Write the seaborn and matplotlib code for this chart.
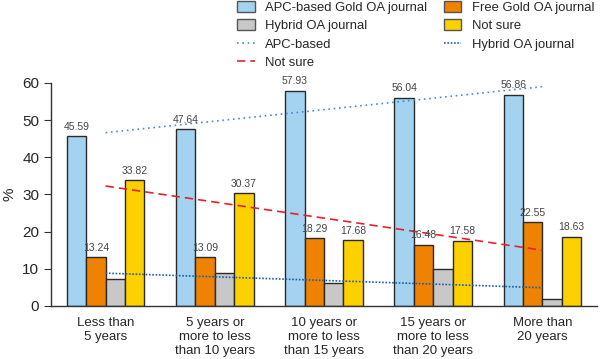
import pandas as pd
import matplotlib.pyplot as plt
import seaborn as sns
from matplotlib.patches import Patch
from matplotlib.lines import Line2D

# Datos
grupos = ["Less than\n5 years",
          "5 years or\nmore to less\nthan 10 years",
          "10 years or\nmore to less\nthan 15 years",
          "15 years or\nmore to less\nthan 20 years",
          "More than\n20 years"]
apc = [45.59, 47.64, 57.93, 56.04, 56.86]
free_gold = [13.24, 13.09, 18.29, 16.48, 22.55]
hybrid = [7.35, 8.90, 6.10, 9.90, 1.96]
not_sure = [33.82, 30.37, 17.68, 17.58, 18.63]

tipos = ["APC-based Gold OA journal", "Free Gold OA journal", "Hybrid OA journal", "Not sure"]
colores = ["#A3D3F0", "#EF8200", "#C8C8C8", "#FDD000"]

sns.set_style("white")
plt.rcParams['font.family'] = ['Liberation Sans', 'DejaVu Sans']

df = pd.DataFrame({
    'Grupo': grupos * 4,
    'Tipo': sum([[t] * 5 for t in tipos], []),
    'Valor': apc + free_gold + hybrid + not_sure,
})

fig = plt.figure(figsize=(6, 3.59), dpi=100)
ax = fig.add_axes([0.085, 0.148, 0.91, 0.621])

sns.barplot(data=df, x='Grupo', y='Valor', hue='Tipo', hue_order=tipos,
            order=grupos, palette=colores, saturation=1, width=0.71, gap=0,
            edgecolor='#2a2a2a', linewidth=1.0, ax=ax, legend=False)

# Etiquetas de valores (sin la de Hybrid)
for i, cont in enumerate(ax.containers):
    if i == 2:
        continue
    ax.bar_label(cont, fmt='%.2f', padding=3, fontsize=7.5, color='#444444')

# Líneas de tendencia
xs = list(range(len(grupos)))
sns.regplot(x=xs, y=apc, scatter=False, ci=None, ax=ax,
            line_kws=dict(ls=(0, (1, 2.2)), lw=1.2, color='#4A8CCB'))
sns.regplot(x=xs, y=not_sure, scatter=False, ci=None, ax=ax,
            line_kws=dict(ls=(0, (5, 3)), lw=1.2, color='#E8202A'))
sns.regplot(x=xs, y=hybrid, scatter=False, ci=None, ax=ax,
            line_kws=dict(ls=(0, (1, 1)), lw=1.2, color='#1F5FA8'))

ax.set_xlim(-0.5, 4.5)
ax.set_ylim(0, 60)
ax.set_yticks([0, 10, 20, 30, 40, 50, 60])
ax.set_xlabel('')
ax.set_ylabel('%', fontsize=11)
sns.despine(ax=ax)
for s in ['left', 'bottom']:
    ax.spines[s].set_color('#333333')
    ax.spines[s].set_linewidth(1.0)

ax.tick_params(axis='x', which='major', length=0, labelsize=9.5, pad=8)
for t in ax.get_xticklabels():
    t.set_linespacing(1.25)
ax.set_xticks([x - 0.5 for x in range(6)], minor=True)
ax.tick_params(axis='x', which='minor', length=5, direction='out', color='#333333')
ax.tick_params(axis='y', length=5, direction='out', labelsize=11, color='#333333', left=True)

# Leyenda
handles = [
    Patch(facecolor=colores[0], edgecolor='#555555', label=tipos[0]),
    Patch(facecolor=colores[2], edgecolor='#555555', label=tipos[2]),
    Line2D([], [], ls=(0, (1, 2.2)), lw=1.2, color='#4A8CCB', label='APC-based'),
    Line2D([], [], ls=(0, (5, 3)), lw=1.2, color='#E8202A', label='Not sure'),
    Patch(facecolor=colores[1], edgecolor='#555555', label=tipos[1]),
    Patch(facecolor=colores[3], edgecolor='#555555', label=tipos[3]),
    Line2D([], [], ls=(0, (1, 1)), lw=1.2, color='#1F5FA8', label='Hybrid OA journal'),
]
fig.legend(handles=handles, loc='upper left', bbox_to_anchor=(0.376, 1.03), ncol=2,
           frameon=False, fontsize=9.4, handlelength=1.35, handleheight=0.9,
           labelspacing=0.42, columnspacing=1.25, handletextpad=0.8)

plt.savefig('out.png', dpi=100)
